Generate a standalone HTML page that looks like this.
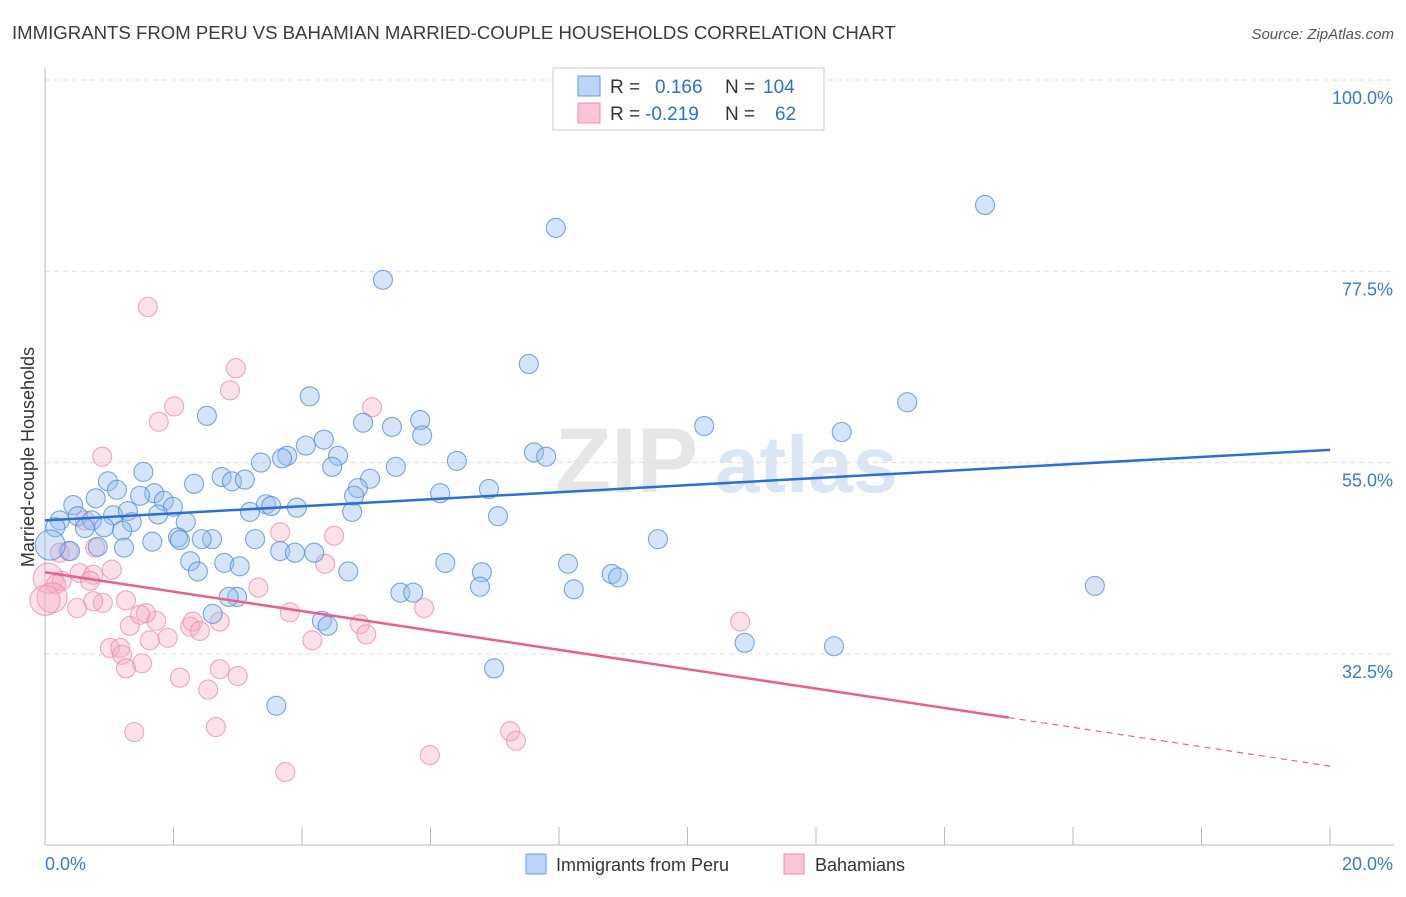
<!DOCTYPE html>
<html><head><meta charset="utf-8">
<style>
body{margin:0;background:#fff;font-family:"Liberation Sans",sans-serif;}
svg text{font-family:"Liberation Sans",sans-serif;}
</style></head>
<body>
<svg id="chart" width="1406" height="892" xmlns="http://www.w3.org/2000/svg">
<text x="12" y="39" font-size="18.6" fill="#3a3a3a">IMMIGRANTS FROM PERU VS BAHAMIAN MARRIED-COUPLE HOUSEHOLDS CORRELATION CHART</text>
<text x="1394" y="39" font-size="15" fill="#555" text-anchor="end" font-style="italic">Source: ZipAtlas.com</text>
<g>
<text x="555" y="492" font-size="92" fill="#e6e6e6" font-family="Liberation Serif" font-weight="bold">ZIP</text>
<text x="715" y="492" font-size="80" fill="#dbe6f5" font-weight="bold">atlas</text>
</g>
<g id="grid"></g>
<g id="axes"></g>
<text transform="translate(34,457) rotate(-90)" font-size="18" fill="#333" text-anchor="middle">Married-couple Households</text>
<g id="marks"></g>
<g id="lines"></g>
<g>
<rect x="553" y="68" width="271" height="62" fill="#fff" stroke="#ccc"/>
<rect x="578" y="76" width="22" height="20" fill="#bcd4f5" stroke="#6a9ae0"/>
<text x="610" y="93" font-size="19" fill="#333">R = </text><text x="655" y="93" font-size="19" fill="#2c6fd6">0.166</text>
<text x="725" y="93" font-size="19" fill="#333">N = </text><text x="763" y="93" font-size="19" fill="#2c6fd6">104</text>
<rect x="578" y="103" width="22" height="20" fill="#f8c6d6" stroke="#e890ae"/>
<text x="610" y="120" font-size="19" fill="#333">R = </text><text x="645" y="120" font-size="19" fill="#2c6fd6">-0.219</text>
<text x="725" y="120" font-size="19" fill="#333">N = </text><text x="775" y="120" font-size="19" fill="#2c6fd6">62</text>
</g>
<g>
<rect x="526" y="854" width="20" height="20" fill="#bcd4f5" stroke="#6a9ae0"/>
<text x="556" y="871" font-size="18" fill="#333">Immigrants from Peru</text>
<rect x="784" y="854" width="20" height="20" fill="#f8c6d6" stroke="#e890ae"/>
<text x="815" y="871" font-size="18" fill="#333">Bahamians</text>
</g>
</svg>
<script>
const xTicks=[0,2,4,6,8,10,12,14,16,18,20];
const yTicks=[32.5,55,77.5,100];
const yTickLabels=["32.5%","55.0%","77.5%","100.0%"];
const blueX=[14.63,7.95,5.26,7.53,13.42,4.12,2.52,5.84,4.95,5.40,5.87,10.26,12.40,4.34,4.06,7.61,7.80,3.77,4.56,3.69,3.36,6.41,4.47,5.46,1.53,2.75,5.06,0.98,2.32,2.91,3.11,6.15,6.91,4.87,1.12,1.70,1.48,0.79,0.44,1.85,3.44,3.92,4.81,3.52,1.99,3.19,4.78,1.06,1.29,1.76,0.51,0.73,7.05,0.23,2.19,0.92,1.35,1.20,0.62,0.16,2.07,1.67,2.60,2.44,2.10,3.27,9.54,0.82,1.23,3.66,3.89,4.19,0.39,0.08,2.26,2.79,3.03,6.23,8.14,2.38,4.72,6.80,8.82,8.92,16.34,6.77,8.23,5.53,5.73,2.99,2.86,2.61,4.31,4.40,10.89,12.28,6.99,3.60];
const blueY=[85.3,82.6,76.5,66.6,62.1,62.8,60.5,60.0,59.7,59.2,58.2,59.3,58.6,57.7,57.0,56.2,55.7,55.8,55.8,55.5,55.0,55.2,54.5,54.5,53.9,53.3,53.1,52.8,52.5,52.8,53.0,51.4,51.9,52.0,51.8,51.4,51.1,50.8,50.0,50.5,50.1,49.7,51.1,49.9,49.8,49.2,49.2,48.8,49.3,48.9,48.7,48.2,48.7,48.2,48.0,47.4,48.0,47.0,47.3,47.4,46.2,45.7,46.0,46.0,45.9,46.0,46.0,45.1,45.0,44.6,44.4,44.4,44.6,45.3,43.4,43.2,42.8,43.2,43.1,42.2,42.2,42.1,41.9,41.5,40.5,40.4,40.1,39.7,39.7,39.2,39.2,37.2,36.4,35.8,33.8,33.4,30.8,26.4];
const pinkX=[1.60,2.97,2.88,5.09,2.01,1.77,0.89,0.62,3.66,4.50,0.78,0.36,0.23,0.54,0.75,0.05,1.04,0.26,3.32,0.17,0.70,0.11,1.26,0.90,0.50,0.75,5.90,3.81,1.73,2.26,2.72,2.30,1.32,10.82,4.90,1.57,1.48,2.41,5.00,1.63,1.91,4.16,1.01,1.17,1.20,2.72,3.00,1.51,1.26,2.10,2.54,2.66,1.39,7.24,7.33,5.99,3.74,4.36,0.0];
const pinkY=[73.3,66.1,63.5,61.5,61.6,59.8,55.7,48.2,46.8,46.4,45.0,44.6,44.4,42.0,41.8,41.4,42.4,41.1,40.3,40.7,41.1,39.1,38.8,38.5,37.9,38.7,37.9,37.4,36.4,35.7,36.3,36.3,35.8,36.3,36.0,37.3,37.1,35.2,34.8,34.1,34.4,34.1,33.2,33.2,32.4,30.7,29.9,31.4,30.8,29.7,28.3,23.9,23.3,23.4,22.3,20.6,18.6,43.1,38.8];
const blueTrend=[48.2,56.5];
const pinkTrend=[42.1,19.3];
const pinkSolidEnd=15;

const NS="http://www.w3.org/2000/svg";
const X=v=>45+v/20*1285;
const Y=v=>80+(100-v)/22.5*191.3;
function mk(tag,attrs,parent){const e=document.createElementNS(NS,tag);for(const k in attrs)e.setAttribute(k,attrs[k]);parent.appendChild(e);return e;}
const grid=document.getElementById('grid'),axes=document.getElementById('axes'),marks=document.getElementById('marks'),lines=document.getElementById('lines');
yTicks.forEach((t,i)=>{
 const g=mk('line',{x1:45,x2:1394,y1:Y(t),y2:Y(t),stroke:'#ddd','stroke-dasharray':'5,4'},grid);
 
 
 const tx=mk('text',{x:1393,y:Y(t)+24,'font-size':18,fill:'#3a78d8','text-anchor':'end'},axes);
 tx.textContent=yTickLabels[i];
 
 
});
const ax=mk('line',{x1:45,x2:45,y1:68,y2:845,stroke:'#bbb'},axes);


const bx=mk('line',{x1:45,x2:1394,y1:845,y2:845,stroke:'#bbb'},axes);


xTicks.forEach(t=>{
 const l=mk('line',{x1:X(t),x2:X(t),y1:827,y2:845,stroke:'#bbb'},axes);
 
 
});
const xl0=mk('text',{x:45,y:870,'font-size':18,fill:'#3a78d8'},axes);xl0.textContent=xTicks[0].toFixed(1)+'%';


const xl1=mk('text',{x:1393,y:870,'font-size':18,fill:'#3a78d8','text-anchor':'end'},axes);xl1.textContent=xTicks[xTicks.length-1].toFixed(1)+'%';


function pts(xs,ys,fill,stroke,name){
 xs.forEach((x,i)=>{
  const r=x<0.12?15:9.5;
  const c=mk('circle',{cx:X(x),cy:Y(ys[i]),r:r,fill:fill,stroke:stroke,'stroke-width':1.1},marks);
  
  
 });
}
pts(pinkX,pinkY,'rgba(246,170,196,0.35)','rgba(232,140,172,0.75)','bahamian-point');
pts(blueX,blueY,'rgba(150,188,240,0.4)','rgba(80,138,215,0.75)','peru-point');
const bl=mk('line',{x1:X(0),y1:Y(blueTrend[0]),x2:X(20),y2:Y(blueTrend[1]),stroke:'#2a6fd6','stroke-width':2.5},lines);


const pAt=x=>pinkTrend[0]+(pinkTrend[1]-pinkTrend[0])*x/20;
const pl=mk('line',{x1:X(0),y1:Y(pinkTrend[0]),x2:X(pinkSolidEnd),y2:Y(pAt(pinkSolidEnd)),stroke:'#e8608e','stroke-width':2.5},lines);


const pd=mk('line',{x1:X(pinkSolidEnd),y1:Y(pAt(pinkSolidEnd)),x2:X(20),y2:Y(pinkTrend[1]),stroke:'#e8608e','stroke-width':1.2,'stroke-dasharray':'6,5'},lines);


</script>
</body></html>
